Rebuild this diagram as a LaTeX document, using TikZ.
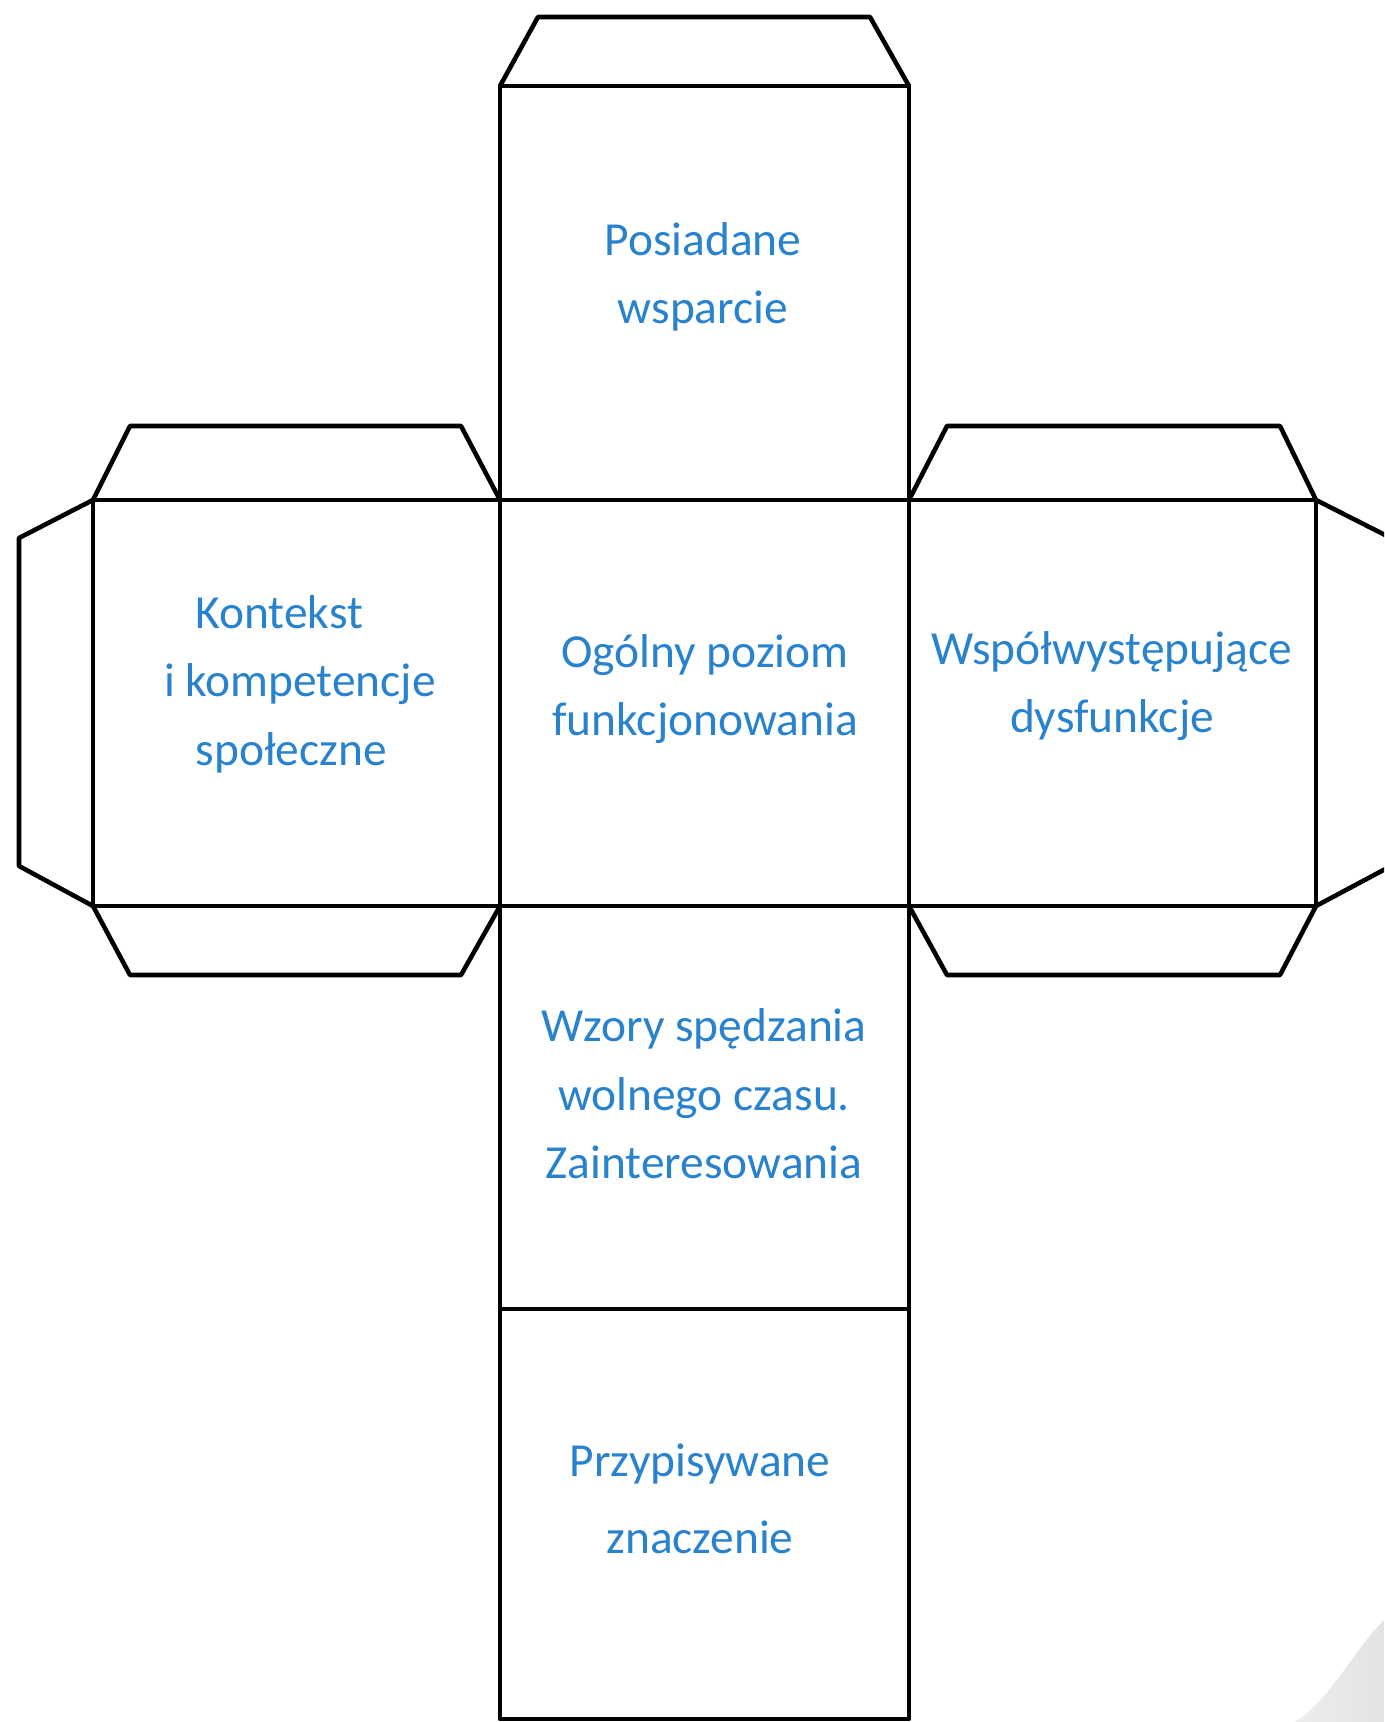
\documentclass[tikz,border=0pt]{standalone}
\usepackage{fontspec}
\setmainfont{Carlito}
\definecolor{netblue}{RGB}{40,130,205}

\begin{document}
\begin{tikzpicture}[x=0.1mm,y=-0.1mm,line width=1.3pt,line join=round,
  facetext/.style={text=netblue,font=\fontsize{13.5}{19.5}\selectfont,align=center}]
\useasboundingbox (0,0) rectangle (1384,1722);
\clip (0,0) rectangle (1384,1722);
% page shadow in the corner
\shade[left color=gray!14,right color=gray!22,draw=none] (1295,1722) .. controls (1330,1700) and (1350,1655) .. (1384,1620) -- (1384,1722) -- cycle;
% centre column: top, middle, lower and bottom faces
\draw (500,86) rectangle (909,1719);
\draw (93,500) -- (1316,500) (93,906) -- (1316,906);
\draw (500,1309) -- (909,1309);
\draw (93,500) -- (93,906) (1316,500) -- (1316,906);
% flaps
\draw (500,86) -- (538,17) -- (870,17) -- (909,86);
\draw (93,500) -- (130,426) -- (461,426) -- (500,500);
\draw (93,906) -- (130,975) -- (461,975) -- (500,906);
\draw (909,500) -- (947,426) -- (1280,426) -- (1316,500);
\draw (909,906) -- (947,975) -- (1280,975) -- (1316,906);
\draw (93,500) -- (19,538) -- (19,866) -- (93,906);
\draw (1316,500) -- (1391,538) -- (1391,866) -- (1316,906);
% face labels
\node[facetext] (support) at (703,277) {Posiadane\\wsparcie};
\node[facetext,align=left,anchor=west] (context) at (150,684) {\hspace*{9pt}Kontekst\\i kompetencje\\\hspace*{9pt}społeczne};
\node[facetext] (general) at (705,689) {Ogólny poziom\\funkcjonowania};
\node[facetext] (comorbid) at (1112,686) {Współwystępujące\\dysfunkcje};
\node[facetext] (leisure) at (704,1094) {Wzory spędzania\\wolnego czasu.\\Zainteresowania};
\node[facetext,font=\fontsize{13.5}{22}\selectfont] (meaning) at (700,1499) {Przypisywane\\znaczenie};
\end{tikzpicture}
\end{document}
